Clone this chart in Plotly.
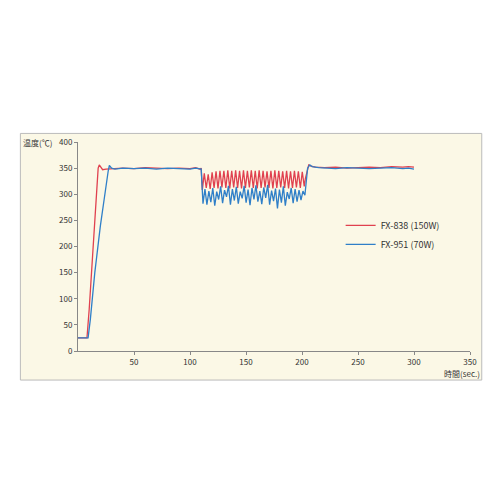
import plotly.graph_objects as go

osc_t = [111,112.75,114.5,116.25,118,119.75,121.5,123.25,125,126.75,
         128.5,130.25,132,133.75,135.5,137.25,139,140.75,142.5,144.25,
         146,147.75,149.5,151.25,153,154.75,156.5,158.25,160,161.75,
         163.5,165.25,167,168.75,170.5,172.25,174,175.75,177.5,179.25,
         181,182.75,184.5,186.25,188,189.75,191.5,193.25,195,196.75,
         198.5,200.25,202]
red_osc = [308,340,312,338,310,342,312,344,311,345,
           313,345,312,346,311,345,313,346,312,345,
           311,346,312,345,313,346,312,345,311,346,
           312,345,313,344,312,345,311,346,312,345,
           313,344,312,345,311,344,312,345,313,344,
           312,343,315]
blue_osc = [282,310,280,306,285,312,278,305,290,315,
            283,308,295,316,280,310,288,314,282,305,
            292,316,284,309,279,312,290,317,286,306,
            281,313,293,318,280,307,287,311,273,309,
            284,315,278,304,291,312,283,310,286,308,
            289,306,298]

red_pre_t = [0,8,10,13,16,18,19,20,22,25,30,40,50,60,70,80,90,100,105,109,110]
red_pre_v = [25,25,80,190,300,350,356,352,347,348,349,350,349,351,350,349,350,349,351,348,350]
red_post_t = [203,205,206,208,212,220,230,240,250,260,270,280,290,295,300]
red_post_v = [330,352,356,354,352,351,352,350,351,352,351,353,352,353,352]

blue_pre_t = [0,9,11,15,20,25,27,28,30,33,40,50,60,70,80,90,100,105,109,110]
blue_pre_v = [25,25,60,150,240,320,345,355,350,348,350,349,350,348,350,349,348,350,349,348]
blue_post_t = [203.5,205,207,209,215,220,230,240,250,260,270,280,290,295,300]
blue_post_v = [320,350,356,353,351,350,349,351,350,349,350,351,349,350,348]

red_t = red_pre_t + osc_t + red_post_t
red_v = red_pre_v + red_osc + red_post_v
blue_t = blue_pre_t + [t + 0.6 for t in osc_t] + blue_post_t
blue_v = blue_pre_v + blue_osc + blue_post_v

fig = go.Figure()
fig.add_trace(go.Scatter(x=red_t, y=red_v, mode="lines", name="FX-838 (150W)",
                         line=dict(color="#e0414f", width=1.3)))
fig.add_trace(go.Scatter(x=blue_t, y=blue_v, mode="lines", name="FX-951 (70W)",
                         line=dict(color="#2f7fc8", width=1.3)))

fig.add_shape(type="rect", xref="paper", yref="paper", x0=-0.147, x1=1.03, y0=-0.139, y1=1.041,
              fillcolor="#fbf8e6", line=dict(color="#bbbbbb", width=1), layer="below")

ax = dict(showgrid=False, zeroline=False, showline=True, linecolor="#888888", linewidth=1,
          ticks="outside", ticklen=3, tickcolor="#888888", tickfont=dict(size=8, color="#333333"))
fig.update_layout(
    width=500, height=500, margin=dict(l=70, r=38, t=134, b=157),
    paper_bgcolor="white", plot_bgcolor="rgba(0,0,0,0)",
    font=dict(family="Noto Sans CJK JP", color="#333333"),
    xaxis=dict(range=[0, 350], tickvals=[50,100,150,200,250,300,350], **ax),
    yaxis=dict(range=[0, 400], dtick=50, **ax),
    legend=dict(x=0.67, y=0.67, xanchor="left", yanchor="top", bgcolor="rgba(0,0,0,0)",
                font=dict(size=9, color="#333333"), tracegroupgap=0),
    showlegend=True,
)
fig.add_annotation(text="温度(℃)", xref="paper", yref="paper", x=-0.06, y=1.0,
                   xanchor="right", yanchor="middle", showarrow=False, font=dict(size=8))
fig.add_annotation(text="時間(sec.)", xref="paper", yref="paper", x=1.03, y=-0.07,
                   xanchor="right", yanchor="top", showarrow=False, font=dict(size=8))
fig.write_html("out.html")
